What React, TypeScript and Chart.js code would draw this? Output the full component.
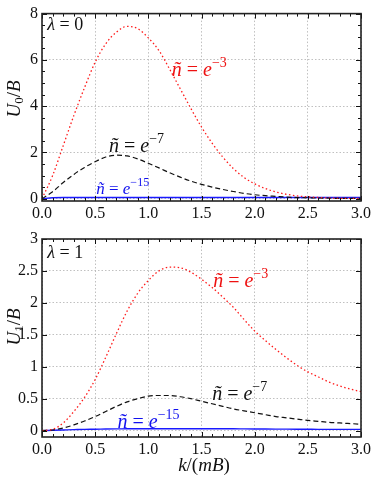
import { useEffect, useRef } from "react";
import { Chart, registerables } from "chart.js";
Chart.register(...registerables);

const kValues = [0, 0.1, 0.2, 0.3, 0.4, 0.5, 0.6, 0.7, 0.8, 0.9, 1.0, 1.1, 1.2, 1.3, 1.4, 1.5, 1.6, 1.7, 1.8, 1.9, 2.0, 2.1, 2.2, 2.3, 2.4, 2.5, 2.6, 2.7, 2.8, 2.9, 3.0];

// lambda = 0 panel
const U0_e3 = [0, 1.0, 2.3, 3.6, 4.8, 5.9, 6.7, 7.2, 7.45, 7.35, 6.95, 6.4, 5.6, 4.75, 3.9, 3.1, 2.4, 1.8, 1.3, 0.92, 0.64, 0.44, 0.29, 0.19, 0.12, 0.08, 0.05, 0.03, 0.02, 0.01, 0.01];
const U0_e7 = [0, 0.3, 0.7, 1.05, 1.35, 1.6, 1.8, 1.88, 1.85, 1.72, 1.53, 1.33, 1.12, 0.93, 0.76, 0.62, 0.5, 0.4, 0.31, 0.23, 0.17, 0.13, 0.1, 0.07, 0.05, 0.04, 0.03, 0.02, 0.015, 0.01, 0.01];
const U0_e15 = [0, 0.04, 0.05, 0.05, 0.05, 0.05, 0.05, 0.05, 0.05, 0.05, 0.05, 0.05, 0.05, 0.05, 0.05, 0.05, 0.05, 0.05, 0.05, 0.05, 0.05, 0.05, 0.05, 0.05, 0.05, 0.05, 0.05, 0.05, 0.05, 0.05, 0.05];

// lambda = 1 panel
const U1_e3 = [0, 0.02, 0.12, 0.3, 0.52, 0.8, 1.15, 1.52, 1.87, 2.15, 2.35, 2.5, 2.56, 2.55, 2.48, 2.37, 2.24, 2.09, 1.93, 1.74, 1.56, 1.41, 1.27, 1.14, 1.02, 0.92, 0.84, 0.76, 0.7, 0.65, 0.61];
const U1_e7 = [0, 0.01, 0.04, 0.09, 0.15, 0.22, 0.3, 0.38, 0.45, 0.5, 0.54, 0.55, 0.55, 0.53, 0.5, 0.46, 0.42, 0.38, 0.34, 0.31, 0.28, 0.25, 0.22, 0.2, 0.18, 0.16, 0.145, 0.13, 0.12, 0.11, 0.1];
const U1_e15 = [0, 0.005, 0.01, 0.015, 0.02, 0.022, 0.025, 0.027, 0.028, 0.03, 0.03, 0.03, 0.03, 0.03, 0.03, 0.03, 0.03, 0.03, 0.028, 0.027, 0.026, 0.025, 0.024, 0.023, 0.022, 0.021, 0.02, 0.02, 0.02, 0.02, 0.02];

const xTicks = [0, 0.5, 1, 1.5, 2, 2.5, 3];
const yTicksTop = [0, 2, 4, 6, 8];
const yTicksBottom = [0, 0.5, 1, 1.5, 2, 2.5, 3];

const SERIF = '"Liberation Serif", "DejaVu Serif", serif';

type Seg = { t: string; it?: boolean; size: number; dy?: number };

function segWidth(ctx: CanvasRenderingContext2D, segs: Seg[]) {
  let w = 0;
  for (const s of segs) {
    ctx.font = `${s.it ? "italic " : ""}${s.size}px ${SERIF}`;
    w += ctx.measureText(s.t).width;
  }
  return w;
}

function drawSegs(ctx: CanvasRenderingContext2D, x: number, y: number, segs: Seg[], color: string) {
  ctx.fillStyle = color;
  ctx.textBaseline = "alphabetic";
  ctx.textAlign = "left";
  for (const s of segs) {
    ctx.font = `${s.it ? "italic " : ""}${s.size}px ${SERIF}`;
    ctx.fillText(s.t, x, y + (s.dy || 0));
    x += ctx.measureText(s.t).width;
  }
}

function nLabel(exp: string, size: number): Seg[] {
  return [
    { t: "ñ", it: true, size },
    { t: " = ", size },
    { t: "e", it: true, size },
    { t: exp, size: Math.round(size * 0.72), dy: -size * 0.45 },
  ];
}

type LabelDef = { x: number; y: number; segs: Seg[]; color: string };

function makeDecor(id: string, labels: LabelDef[], yMinor: number | null, yTitle: Seg[], yTitleCenter: number, xTitle: Seg[] | null) {
  return {
    id,
    afterDatasetsDraw(chart: any) {
      const ctx: CanvasRenderingContext2D = chart.ctx;
      const { left, right, top, bottom } = chart.chartArea;
      const xs = chart.scales.x;
      const ys = chart.scales.y;
      ctx.save();
      ctx.strokeStyle = "#111";
      ctx.lineWidth = 1;
      const tick = (px: number, len: number, vertical: boolean) => {
        ctx.beginPath();
        if (vertical) {
          ctx.moveTo(px, bottom);
          ctx.lineTo(px, bottom - len);
          ctx.moveTo(px, top);
          ctx.lineTo(px, top + len);
        } else {
          ctx.moveTo(left, px);
          ctx.lineTo(left + len, px);
          ctx.moveTo(right, px);
          ctx.lineTo(right - len, px);
        }
        ctx.stroke();
      };
      for (let i = 0; i <= 30; i++) {
        const v = i / 10;
        const px = Math.round(xs.getPixelForValue(v)) + 0.5;
        tick(px, i % 5 === 0 ? 5 : 3, true);
      }
      const yMax = ys.max;
      if (yMinor) {
        for (let v = 0; v <= yMax + 1e-9; v += yMinor) {
          const px = Math.round(ys.getPixelForValue(v)) + 0.5;
          tick(px, 3, false);
        }
      }
      for (const t of ys.ticks) {
        const px = Math.round(ys.getPixelForValue(t.value)) + 0.5;
        tick(px, 5, false);
      }
      ctx.strokeStyle = "#222";
      ctx.lineWidth = 1.6;
      ctx.strokeRect(left, top, right - left, bottom - top);
      for (const l of labels) {
        drawSegs(ctx, xs.getPixelForValue(l.x), ys.getPixelForValue(l.y), l.segs, l.color);
      }
      ctx.restore();
      ctx.save();
      ctx.translate(20, yTitleCenter);
      ctx.rotate(-Math.PI / 2);
      const w = segWidth(ctx, yTitle);
      drawSegs(ctx, -w / 2, 0, yTitle, "#111");
      ctx.restore();
      if (xTitle) {
        ctx.save();
        const w2 = segWidth(ctx, xTitle);
        drawSegs(ctx, 204 - w2 / 2, chart.height - 6, xTitle, "#111");
        ctx.restore();
      }
    },
  };
}

function ds(label: string, ys: number[], color: string, dash: number[], width: number) {
  return {
    label,
    data: kValues.map((k, i) => ({ x: k, y: ys[i] })),
    borderColor: color,
    borderWidth: width,
    borderDash: dash,
    pointRadius: 0,
    fill: false,
    cubicInterpolationMode: "monotone" as const,
  };
}

function baseOptions(yMin: number, yMax: number, yTicks: number[], yFmt: (v: number) => string, xAxisH: number, padTop: number) {
  return {
    animation: false as const,
    responsive: false,
    events: [],
    layout: { padding: { top: padTop, right: 11, left: 0, bottom: 0 } },
    plugins: { legend: { display: false }, tooltip: { enabled: false }, title: { display: false } },
    scales: {
      x: {
        type: "linear" as const,
        min: 0,
        max: 3,
        afterBuildTicks: (s: any) => {
          s.ticks = xTicks.map((v) => ({ value: v }));
        },
        afterFit: (s: any) => {
          s.height = xAxisH;
        },
        ticks: {
          callback: (v: any) => Number(v).toFixed(1),
          color: "#111",
          font: { family: SERIF, size: 16 },
          padding: 3,
          maxRotation: 0,
          autoSkip: false,
        },
        grid: { color: "#b0b0b0", lineWidth: 0.8, drawTicks: false },
        border: { display: false, dash: [1.5, 2] },
      },
      y: {
        type: "linear" as const,
        min: yMin,
        max: yMax,
        afterBuildTicks: (s: any) => {
          s.ticks = yTicks.map((v) => ({ value: v }));
        },
        afterFit: (s: any) => {
          s.width = 42;
        },
        ticks: {
          callback: (v: any) => yFmt(Number(v)),
          color: "#111",
          font: { family: SERIF, size: 16 },
          padding: 4,
          autoSkip: false,
        },
        grid: { color: "#b0b0b0", lineWidth: 0.8, drawTicks: false },
        border: { display: false, dash: [1.5, 2] },
      },
    },
  };
}

export default function App() {
  const topRef = useRef<HTMLCanvasElement>(null);
  const botRef = useRef<HTMLCanvasElement>(null);

  useEffect(() => {
    const topLabels: LabelDef[] = [
      { x: 0.05, y: 7.3, segs: [{ t: "λ", it: true, size: 18 }, { t: " = 0", size: 18 }], color: "#111" },
      { x: 1.22, y: 5.3, segs: nLabel("−3", 20), color: "#ee1111" },
      { x: 0.63, y: 2.0, segs: nLabel("−7", 20), color: "#111" },
      { x: 0.51, y: 0.2, segs: nLabel("−15", 17), color: "#1111ee" },
    ];
    const botLabels: LabelDef[] = [
      { x: 0.05, y: 2.7, segs: [{ t: "λ", it: true, size: 18 }, { t: " = 1", size: 18 }], color: "#111" },
      { x: 1.61, y: 2.25, segs: nLabel("−3", 20), color: "#ee1111" },
      { x: 1.6, y: 0.48, segs: nLabel("−7", 20), color: "#111" },
      { x: 0.71, y: 0.04, segs: nLabel("−15", 20), color: "#1111ee" },
    ];
    const topChart = new Chart(topRef.current!, {
      type: "line",
      data: {
        datasets: [
          ds("e-3", U0_e3, "#ff1a1a", [1.5, 2.5], 1.3),
          ds("e-7", U0_e7, "#111", [5, 3], 1.2),
          ds("e-15", U0_e15, "#1a1aff", [], 1.4),
        ],
      },
      options: baseOptions(-0.1, 8, yTicksTop, (v) => String(v), 21, 5) as any,
      plugins: [
        makeDecor(
          "decorTop",
          topLabels,
          0.5,
          [{ t: "U", it: true, size: 19 }, { t: "0", size: 13, dy: 3 }, { t: "/", size: 19 }, { t: "B", it: true, size: 19 }],
          99,
          null
        ),
      ],
    });
    const botChart = new Chart(botRef.current!, {
      type: "line",
      data: {
        datasets: [
          ds("e-3", U1_e3, "#ff1a1a", [1.5, 2.5], 1.3),
          ds("e-7", U1_e7, "#111", [5, 3], 1.2),
          ds("e-15", U1_e15, "#1a1aff", [], 1.4),
        ],
      },
      options: baseOptions(-0.1, 3, yTicksBottom, (v) => String(v), 40, 17) as any,
      plugins: [
        makeDecor(
          "decorBot",
          botLabels,
          null,
          [{ t: "U", it: true, size: 19 }, { t: "1", size: 13, dy: 3 }, { t: "/", size: 19 }, { t: "B", it: true, size: 19 }],
          327 - 222,
          [{ t: "k", it: true, size: 19 }, { t: "/(", size: 19 }, { t: "mB", it: true, size: 19 }, { t: ")", size: 19 }]
        ),
      ],
    });
    return () => {
      topChart.destroy();
      botChart.destroy();
    };
  }, []);

  return (
    <div style={{ position: "fixed", left: 0, top: 0, width: 374, height: 477, background: "#fff" }}>
      <canvas ref={topRef} width={374} height={222} style={{ position: "absolute", left: 0, top: 0, width: 374, height: 222 }} />
      <canvas ref={botRef} width={374} height={255} style={{ position: "absolute", left: 0, top: 222, width: 374, height: 255 }} />
    </div>
  );
}
